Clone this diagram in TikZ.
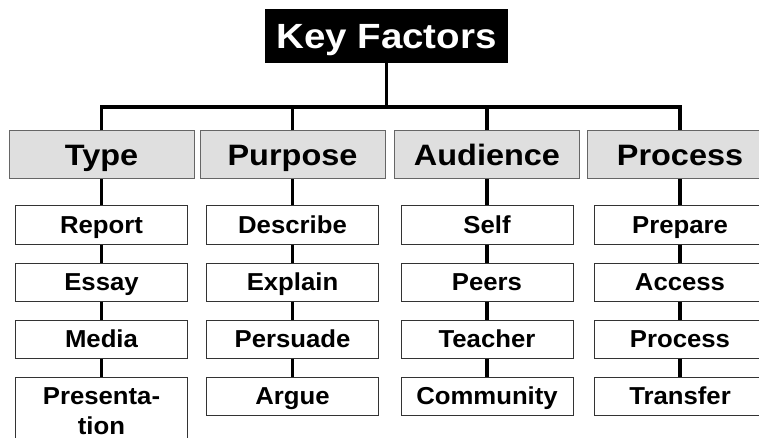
\documentclass[tikz,border=0pt]{standalone}
\usepackage{fontspec}
\setmainfont{Liberation Sans}
\newfontfamily\widesf{Liberation Sans}[FakeStretch=1.1]
\newfontfamily\itemsf{Liberation Sans}[FakeStretch=1.05]
\usepackage{tikz}
\usetikzlibrary{positioning}

\tikzset{
  titlebox/.style={fill=black, text=white, inner sep=0pt, minimum width=243, minimum height=54,
    font=\widesf\bfseries\fontsize{35}{40}\selectfont, text height=25pt, text depth=0pt},
  headbox/.style={draw=black!60, fill=gray!25, line width=1pt, inner sep=0pt, minimum width=185, minimum height=48,
    font=\widesf\bfseries\fontsize{29.5}{34}\selectfont, text height=21pt, text depth=0pt},
  itembox/.style={draw=black!80, fill=white, line width=1pt, inner sep=0pt, minimum width=172, minimum height=38,
    font=\itemsf\bfseries\fontsize{24.5}{30}\selectfont, text height=17.5pt, text depth=0pt},
  link/.style={line width=3.5pt}
}

\begin{document}
\begin{tikzpicture}[x=1pt,y=1pt]
\useasboundingbox (0,0) rectangle (759,-438);
\clip (0,0) rectangle (759,-438);

\node[titlebox] (title) at (386.5,-36) {Key Factors};

\node[headbox] (type) at (101.5,-155) {Type}; \node[headbox] (purpose) at (292.5,-155) {Purpose};
\node[headbox] (audience) at (487,-155) {Audience}; \node[headbox] (process) at (680,-155) {Process};

\node[itembox, below=26 of type] (report) {Report}; \node[itembox, below=18 of report] (essay) {Essay};
\node[itembox, below=18 of essay] (media) {Media};
\node[itembox, below=18 of media, text height=, text depth=, align=center, minimum height=68] (presentation) {Presenta-\\tion};

\node[itembox, below=26 of purpose] (describe) {Describe}; \node[itembox, below=18 of describe] (explain) {Explain};
\node[itembox, below=18 of explain] (persuade) {Persuade}; \node[itembox, below=18 of persuade] (argue) {Argue};

\node[itembox, below=26 of audience] (self) {Self}; \node[itembox, below=18 of self] (peers) {Peers};
\node[itembox, below=18 of peers] (teacher) {Teacher}; \node[itembox, below=18 of teacher] (community) {Community};

\node[itembox, below=26 of process] (prepare) {Prepare}; \node[itembox, below=18 of prepare] (access) {Access};
\node[itembox, below=18 of access] (processing) {Process}; \node[itembox, below=18 of processing] (transfer) {Transfer};

\coordinate (bus) at (0,-107);
\draw[link] (title.south) -- (title.south |- bus);
\draw[link] (type.north) |- (process.north |- bus) -- (process.north);
\draw[link] (purpose.north) -- (purpose.north |- bus);
\draw[link] (audience.north) -- (audience.north |- bus);

\draw[link] (type) -- (report) -- (essay) -- (media) -- (presentation);
\draw[link] (purpose) -- (describe) -- (explain) -- (persuade) -- (argue);
\draw[link] (audience) -- (self) -- (peers) -- (teacher) -- (community);
\draw[link] (process) -- (prepare) -- (access) -- (processing) -- (transfer);
\end{tikzpicture}
\end{document}
